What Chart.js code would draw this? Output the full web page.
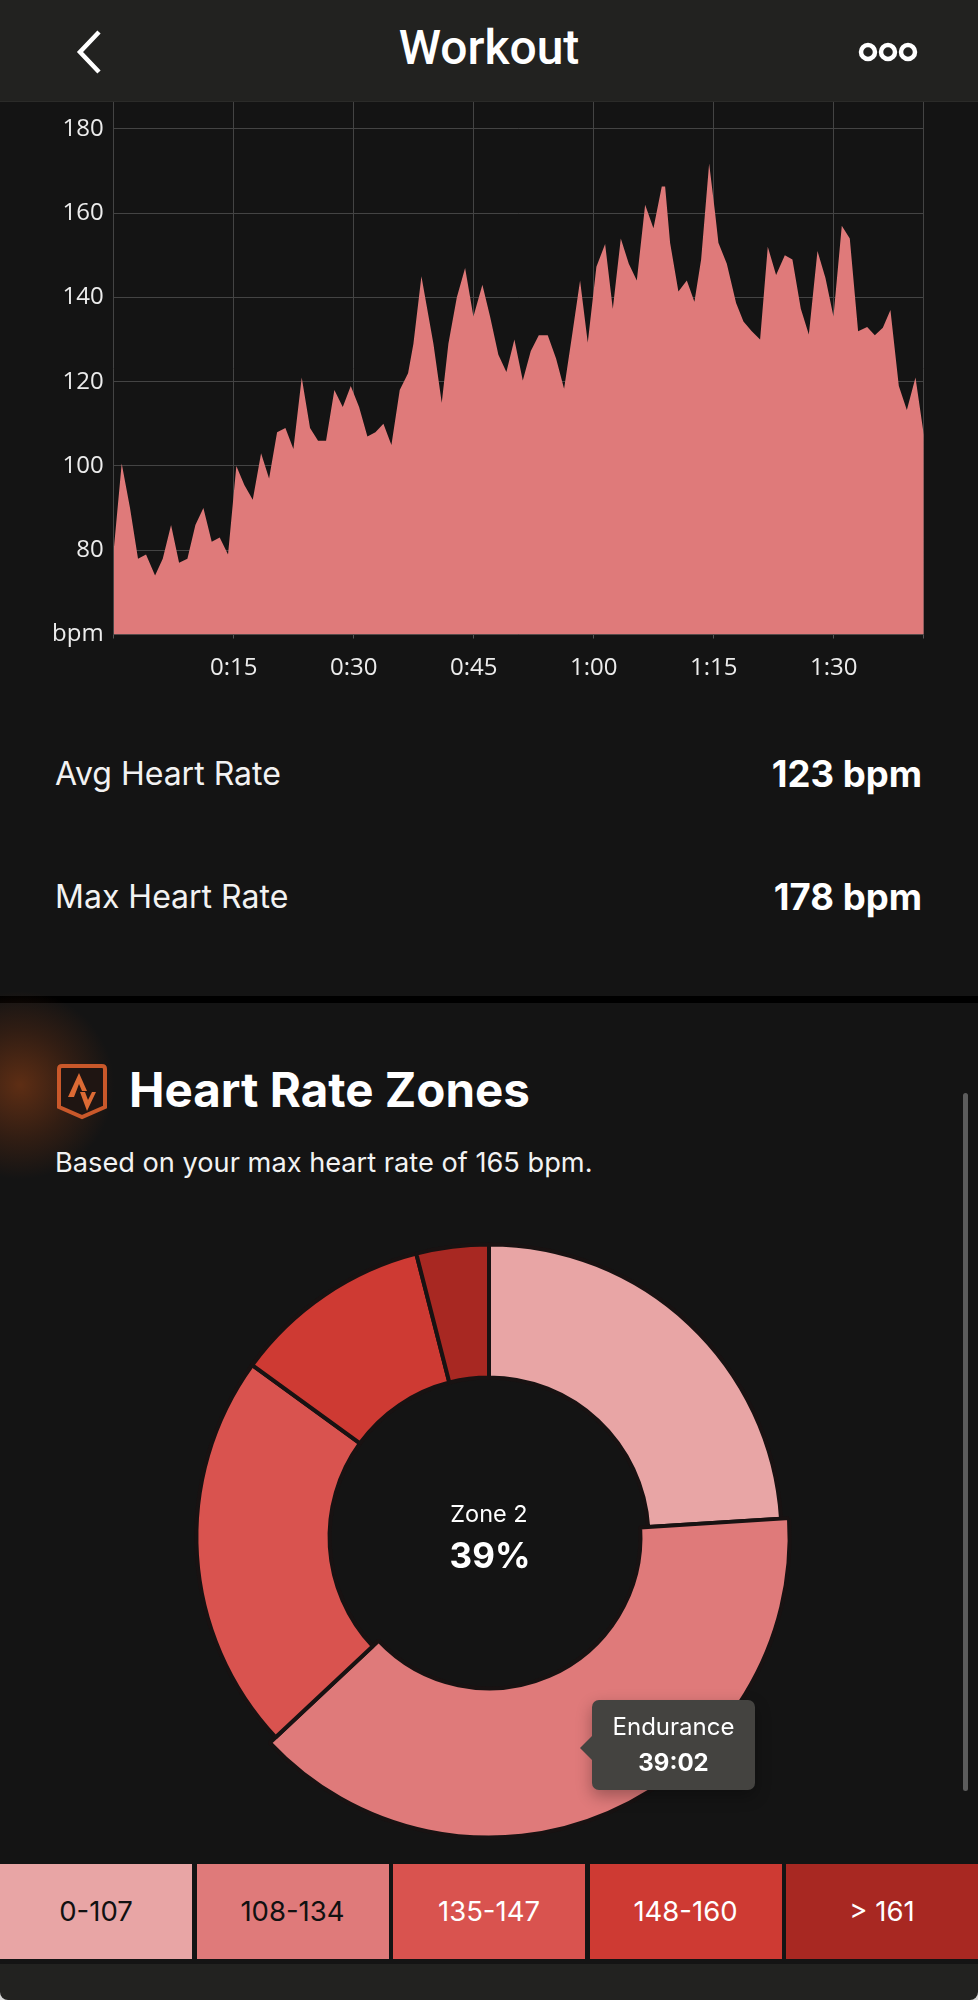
<!DOCTYPE html>
<html>
<head>
<meta charset="utf-8">
<title>Workout</title>
<script src="https://cdn.jsdelivr.net/npm/chart.js@4"></script>
<style>
  html, body { margin: 0; padding: 0; background: #000; }
  #page { position: relative; width: 978px; height: 2000px; overflow: hidden; background: #141414; color: #fff; font-family: Inter, sans-serif; }
  #page > * { position: absolute; }
  .label { font-size: 32px; line-height: 40px; white-space: nowrap; color: #f2f2f2; }
  .value { font-size: 36.5px; font-weight: 700; line-height: 40px; right: 56px; white-space: nowrap; }
  #header { left: 0; top: 0; width: 978px; height: 101px; background: #222220; border-bottom: 1px solid #2b2b29; }
  #title { left: 0; top: 20px; width: 978px; text-align: center; font-family: Roboto, sans-serif; font-size: 48px; font-weight: 500; line-height: 56px; }
  #band { left: 0; top: 996px; width: 978px; height: 7px; background: #000; }
  #glow { left: -75px; top: 990px; width: 190px; height: 190px; background: radial-gradient(circle, rgba(112,52,20,.8) 0%, rgba(90,42,18,.42) 40%, rgba(20,20,20,0) 70%); }
  #zones-title { left: 129px; top: 1060px; font-size: 47.5px; font-weight: 700; line-height: 60px; white-space: nowrap; }
  #zones-note { left: 55px; top: 1143px; font-size: 27.2px; line-height: 40px; white-space: nowrap; color: #f2f2f2; }
  #scrollbar { left: 963px; top: 1093px; width: 5px; height: 698px; border-radius: 3px; background: #5c5c5c; }
  #center-name { left: 389px; width: 200px; top: 1498px; text-align: center; font-size: 23.5px; line-height: 32px; }
  #center-share { left: 390px; width: 200px; top: 1531px; text-align: center; font-size: 35px; font-weight: 700; line-height: 48px; }
  #tip { left: 592px; top: 1700px; width: 163px; height: 90px; border-radius: 7px; background: #444340; box-shadow: 0 6px 16px rgba(0,0,0,.3); text-align: center; }
  #tip:before { content: ''; position: absolute; left: -12px; top: 36px; border: 12px solid transparent; border-left: 0; border-right-color: #444340; }
  #tip div { font-size: 24px; line-height: 36px; }
  #tip div:first-child { margin-top: 9px; }
  #tip div:last-child { font-weight: 700; }
  #ranges { left: 0; top: 1864px; width: 978px; height: 95px; display: flex; justify-content: space-between; }
  #ranges div { width: 192px; line-height: 95px; text-align: center; font-size: 27.5px; }
  #corner { left: 0; top: 1990px; width: 978px; height: 10px; background: #d8d8d8; }
  #footer { left: 0; top: 1964px; width: 978px; height: 36px; background: #222220; border-radius: 0 0 8px 8px; }
</style>
</head>
<body>
<div id="page">
  <canvas id="hrChart" style="left:0;top:100px"></canvas>
  <div id="header"></div>
  <div id="title">Workout</div>
  <svg style="left:70px;top:25px" width="40" height="52" viewBox="0 0 40 52"><path d="M29 7 L10 27 L29 47" fill="none" stroke="#fff" stroke-width="4.5"/></svg>
  <svg style="left:856px;top:38px" width="64" height="28" viewBox="0 0 64 28">
    <circle cx="12" cy="14" r="7" fill="none" stroke="#fff" stroke-width="4.5"/>
    <circle cx="32" cy="14" r="7" fill="none" stroke="#fff" stroke-width="4.5"/>
    <circle cx="52" cy="14" r="7" fill="none" stroke="#fff" stroke-width="4.5"/>
  </svg>

  <div class="label" style="left:55px;top:754px">Avg Heart Rate</div>
  <div class="value" style="top:754px">123 bpm</div>
  <div class="label" style="left:55px;top:877px">Max Heart Rate</div>
  <div class="value" style="top:877px">178 bpm</div>

  <div id="band"></div>
  <div id="glow"></div>
  <svg style="left:57px;top:1064px" width="50" height="56" viewBox="0 0 50 56">
    <path d="M5 2 H45 Q48 2 48 5 V43 L25 53 L2 43 V5 Q2 2 5 2 Z" fill="#1f1512" stroke="#c9582a" stroke-width="4"/>
    <path d="M11 33 L22 9 L30 27 L25 27 L22 20 L17 33 Z" fill="#dc6a34"/>
    <path d="M23 28 L28 28 L31 36 L35 28 L39 28 L30 47 Z" fill="#dc6a34"/>
  </svg>
  <div id="zones-title">Heart Rate Zones</div>
  <div id="zones-note">Based on your max heart rate of 165 bpm.</div>
  <div id="scrollbar"></div>

  <canvas id="zoneChart" style="left:169px;top:1217px"></canvas>
  <div id="center-name">Zone 2</div>
  <div id="center-share">39%</div>
  <div id="tip"><div>Endurance</div><div>39:02</div></div>

  <div id="corner"></div>
  <div id="footer"></div>
  <div id="ranges"></div>
</div>

<script>
const elapsedMinutes = [0, 1, 2.04, 3.04, 4.04, 5.17, 6.13, 7.17, 8.17, 9.21, 10.21, 11.21, 12.25, 13.25, 14.29,
  15.33, 16.33, 17.38, 18.42, 19.42, 20.42, 21.46, 22.46, 23.5, 24.54, 25.54, 26.54, 27.58, 28.63, 29.63,
  30.67, 31.71, 32.71, 33.71, 34.71, 35.75, 36.79, 37.46, 38.46, 39.96, 41, 41.83, 42.88, 43.92, 44.96, 46.08,
  47.04, 48.08, 49.08, 50.08, 51.13, 52.13, 53.13, 54.25, 55.29, 56.29, 57.29, 58.29, 59.25, 60.33,
  61.42, 62.38, 63.38, 64.38, 65.38, 66.42, 67.46, 68.5, 68.92, 69.54, 70.58, 71.63, 72.58, 73.42, 74.42,
  75.17, 75.58, 76.63, 77.79, 78.71, 79.75, 80.79, 81.75, 82.79, 83.88, 84.83, 85.88, 86.88, 87.96, 88.96,
  89.96, 91, 92, 93.04, 94.17, 95.13, 96.13, 97.08, 98.13, 99.13, 100.21, 101.25];
const heartRate = [80, 100.6, 90, 78, 79, 74, 78, 86, 77, 78, 86, 90, 82, 83, 79,
  100, 95.5, 92, 103, 97, 108, 109, 104, 121, 109, 106, 106, 118, 114, 119,
  114, 107, 108, 110, 105, 118, 122, 129, 145, 129, 115, 129, 140, 147, 135.5, 143,
  135.5, 126.4, 122.3, 130, 120.3, 127.3, 131, 131, 125.5, 118.3, 131, 144, 129.3, 147.3,
  152.7, 137.3, 154, 148, 144, 162, 156.4, 166.3, 166.3, 153, 141.4, 144, 139, 149, 171.8,
  160, 153, 148, 138.7, 134.3, 132, 130, 152, 145.3, 150, 149, 137.3, 131.2, 151, 144.6,
  135.5, 157, 154, 132, 133, 131, 132.8, 137, 119, 113.3, 121, 107.4];
const xTickMinutes = [0, 15, 30, 45, 60, 75, 90, 101.25];
const xTickLabels = ['', '0:15', '0:30', '0:45', '1:00', '1:15', '1:30', ''];
const yTickValues = [60, 80, 100, 120, 140, 160, 180];
const yTickLabels = ['bpm', '80', '100', '120', '140', '160', '180'];

const zoneShares = [24, 39, 22, 11, 4];
const zoneColors = ['#e8a5a5', '#df7a7a', '#d9534f', '#ce3a33', '#a82822'];
const zoneRanges = ['0-107', '108-134', '135-147', '148-160', '> 161'];
const zoneTextColors = ['#111', '#111', '#fff', '#fff', '#fff'];

Chart.defaults.font.family = '"Open Sans", sans-serif';
Chart.defaults.animation = false;
Chart.defaults.responsive = false;

const hrCanvas = document.getElementById('hrChart');
hrCanvas.width = 978;
hrCanvas.height = 600;

new Chart(hrCanvas, {
  type: 'line',
  data: {
    datasets: [{
      data: heartRate.map((bpm, i) => ({ x: elapsedMinutes[i], y: bpm })),
      fill: 'start',
      backgroundColor: zoneColors[1],
      borderWidth: 0,
      pointRadius: 0,
      tension: 0
    }]
  },
  options: {
    layout: { padding: { top: 1.5, right: 54.2 } },
    plugins: { legend: { display: false }, tooltip: { enabled: false } },
    scales: {
      x: {
        type: 'linear',
        min: 0,
        max: 101.25,
        afterBuildTicks: scale => { scale.ticks = xTickMinutes.map(value => ({ value })); },
        afterFit: scale => { scale.height = 65.5; scale.paddingLeft = 0; scale.paddingRight = 0; },
        grid: { color: '#444', tickLength: 4, tickColor: '#555' },
        border: { display: false },
        ticks: {
          autoSkip: false,
          maxRotation: 0,
          padding: 15,
          color: '#ececec',
          font: { size: 24 },
          callback: value => xTickLabels[xTickMinutes.indexOf(value)]
        }
      },
      y: {
        min: 60,
        max: 186.5,
        afterBuildTicks: scale => { scale.ticks = yTickValues.map(value => ({ value })); },
        afterFit: scale => { scale.width = 113.7; scale.paddingTop = 0; scale.paddingBottom = 0; },
        grid: { color: '#444', drawTicks: false },
        border: { display: false },
        ticks: {
          padding: 10,
          color: '#ececec',
          font: { size: 24 },
          callback: value => yTickLabels[yTickValues.indexOf(value)]
        }
      }
    }
  }
});

// zone 2 is the selected slice, it grows both ways like in the app
const selectedSlice = {
  id: 'selectedSlice',
  afterDatasetsUpdate(chart) {
    const arc = chart.getDatasetMeta(0).data[1];
    arc.outerRadius += 8;
    arc.innerRadius -= 8;
  }
};

const zoneCanvas = document.getElementById('zoneChart');
zoneCanvas.width = 640;
zoneCanvas.height = 640;

new Chart(zoneCanvas, {
  type: 'doughnut',
  data: {
    labels: zoneRanges,
    datasets: [{
      data: zoneShares,
      backgroundColor: zoneColors,
      borderColor: '#181212',
      borderWidth: 4
    }]
  },
  options: {
    radius: 292.6,
    cutout: '54.5%',
    plugins: { legend: { display: false }, tooltip: { enabled: false } }
  },
  plugins: [selectedSlice]
});

const ranges = document.getElementById('ranges');
zoneRanges.forEach((range, i) => {
  const cell = document.createElement('div');
  cell.textContent = range;
  cell.style.background = zoneColors[i];
  cell.style.color = zoneTextColors[i];
  ranges.appendChild(cell);
});
</script>
</body>
</html>
